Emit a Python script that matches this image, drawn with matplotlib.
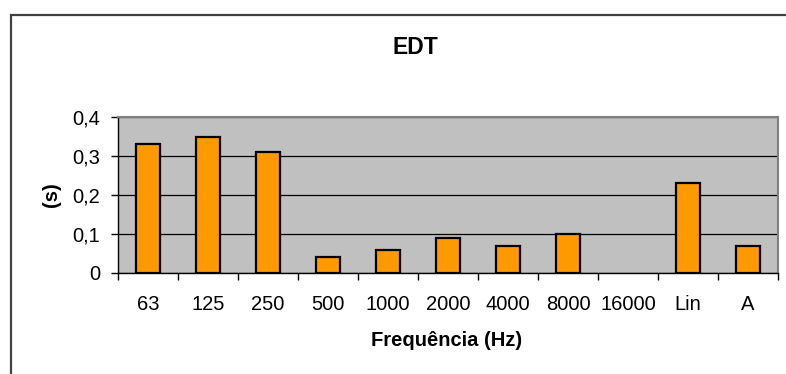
import matplotlib
matplotlib.use('Agg')
import matplotlib.pyplot as plt
from matplotlib.patches import Rectangle
from matplotlib.ticker import FuncFormatter

plt.rcParams['font.family'] = ['Liberation Sans', 'DejaVu Sans']

bandas = ['63', '125', '250', '500', '1000', '2000', '4000', '8000', '16000', 'Lin', 'A']
edt = [0.33, 0.35, 0.31, 0.04, 0.06, 0.09, 0.07, 0.10, 0.0, 0.23, 0.07]

W, H = 786, 374
fig = plt.figure(figsize=(W / 100, H / 100), dpi=100, facecolor='w')

# outer chart border (right/bottom fall outside the image)
fig.patches.append(Rectangle((11 / W, -0.1), 1.2, 1.1 - 15 / H, transform=fig.transFigure,
                             fill=False, edgecolor='#404040', linewidth=1.6))

left, right, top, bottom = 118, 778, 117, 273
ax = fig.add_axes([left / W, 1 - bottom / H, (right - left) / W, (bottom - top) / H])
ax.set_facecolor('#C0C0C0')

x = list(range(len(bandas)))
vals = [v if v > 0 else float('nan') for v in edt]
ax.bar(x, vals, width=0.41, color='#FF9900', edgecolor='black', linewidth=1.6, zorder=3)

ax.set_xlim(-0.5, len(bandas) - 0.5)
ax.set_ylim(0, 0.4)
ax.set_yticks([0, 0.1, 0.2, 0.3, 0.4])
ax.yaxis.set_major_formatter(FuncFormatter(lambda v, p: '0' if v == 0 else ('%.1f' % v).replace('.', ',')))
ax.grid(axis='y', color='black', linewidth=0.9, zorder=1)

# category labels centred, ticks between categories
ax.set_xticks(x)
ax.set_xticklabels(bandas, fontsize=14.5)
ax.tick_params(axis='x', which='major', length=0, pad=16)
ax.set_xticks([i - 0.5 for i in range(len(bandas) + 1)], minor=True)
ax.tick_params(axis='x', which='minor', length=5, width=1, direction='out', color='black')
ax.tick_params(axis='y', length=5, width=1, direction='out', labelsize=14.5, pad=8)

for s in ['top', 'right']:
    ax.spines[s].set_color('#808080')
    ax.spines[s].set_linewidth(1.5)
for s in ['left', 'bottom']:
    ax.spines[s].set_color('black')
    ax.spines[s].set_linewidth(1)

fig.text(415 / W, 1 - 48 / H, 'EDT', ha='center', va='center', fontsize=16.5, fontweight='bold')
fig.text(52 / W, 1 - 195 / H, '(s)', ha='center', va='center', rotation=90, fontsize=14.5, fontweight='bold')
fig.text(447 / W, 1 - 340 / H, 'Frequência (Hz)', ha='center', va='center', fontsize=14.5, fontweight='bold')

fig.savefig('out.png', dpi=100)
